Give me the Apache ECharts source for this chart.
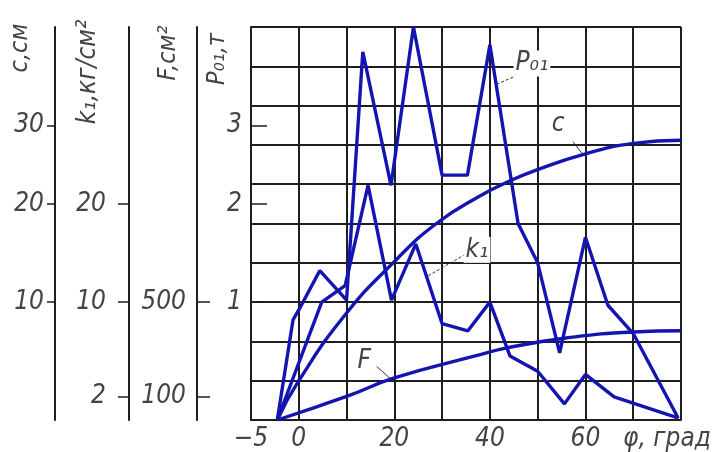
<!DOCTYPE html>
<html><head><meta charset="utf-8">
<script src="https://cdn.jsdelivr.net/npm/echarts@6.0.0/dist/echarts.min.js"></script>
<style>html,body{margin:0;padding:0;background:#fff}#chart{width:717px;height:452px}</style>
</head><body><div id="chart"></div>
<script>
// ---- data (x: φ, град ; y: values read against the 10-row grid) ----
const phiP01 = [-4.5, -1.2, 0, 4.4, 10, 13.4, 19.3, 24, 30, 35.3, 40, 45.9, 50, 54.6, 60, 64.7, 70, 79.4];
const valP01 = [0, 2.55, 2.8, 3.8, 3.05, 9.37, 5.97, 10, 6.23, 6.23, 9.55, 5.0, 4.0, 1.71, 4.65, 2.92, 2.2, 0.05];

const phiK1 = [-4.5, 4.8, 9.7, 14.5, 19.4, 24.5, 30, 35.4, 40, 44.2, 50, 55.6, 60, 66, 79.5];
const valK1 = [0, 3.0, 3.42, 5.97, 3.05, 4.48, 2.45, 2.27, 3.0, 1.63, 1.24, 0.41, 1.16, 0.59, 0.05];

const phiC = [-4.5, 0, 9.8, 20, 28.8, 37.9, 44.5, 49.7, 60, 70, 80];
const valC = [0, 1.0, 2.69, 4.03, 5.0, 5.7, 6.1, 6.36, 6.77, 7.04, 7.12];

const phiF = [-4.5, 10, 20, 36.9, 43.8, 55.6, 70, 80];
const valF = [0, 0.6, 1.07, 1.63, 1.84, 2.08, 2.24, 2.27];

// tick labels
const xTickAt = [-10, 0, 20, 40, 60];
const xTickLabels = ['−5', '0', '20', '40', '60'];
const p01TickAt = [3, 5.5, 7.5];
const p01TickLabels = ['1', '2', '3'];
const cTickAt = [3, 5.5, 7.5];
const cTickLabels = ['10', '20', '30'];
const k1TickAt = [0.6, 3, 5.5];
const k1TickLabels = ['2', '10', '20'];
const fTickAt = [0.6, 3];
const fTickLabels = ['100', '500'];

// ---- styles ----
const FONT = "'Liberation Sans Narrow', 'DejaVu Sans Condensed', 'Liberation Sans', sans-serif";
const TXT = '#444444';
const BLUE = '#1414b0';
const GRIDC = '#1e1e1e';

const pairs = (xs, ys) => xs.map((x, i) => [x, ys[i]]);
const lookup = (at, labels) => v => {
  for (let i = 0; i < at.length; i++) if (Math.abs(at[i] - v) < 1e-6) return labels[i];
  return '';
};

function labelAxis(offset, at, labels, inside, tickLen, margin, showLine) {
  return {
    type: 'value', position: 'left', offset: offset, min: 0, max: 10,
    axisLine: { show: showLine, onZero: false, lineStyle: { color: GRIDC, width: 2 } },
    axisTick: { show: true, inside: inside, length: tickLen, customValues: at, lineStyle: { color: GRIDC, width: 1.5 } },
    axisLabel: { show: true, customValues: at, formatter: lookup(at, labels), margin: margin,
      fontFamily: FONT, fontStyle: 'italic', fontSize: 26, color: TXT },
    splitLine: { show: false }
  };
}

const lblStyle = (bg) => ({
  show: true, position: 'inside', fontFamily: FONT, fontStyle: 'italic', fontSize: 26, color: TXT,
  backgroundColor: bg ? '#fff' : 'transparent', padding: [0, 2]
});

const chart = echarts.init(document.getElementById('chart'), null, { renderer: 'canvas' });
chart.setOption({
  animation: false,
  backgroundColor: '#fff',
  grid: { left: 251, right: 36, top: 27, bottom: 28, containLabel: false },
  xAxis: {
    type: 'value', min: -10, max: 80, interval: 10,
    axisLine: { show: true, onZero: false, lineStyle: { color: GRIDC, width: 2 } },
    axisTick: { show: false },
    axisLabel: {
      show: true, interval: 0, margin: 6,
      formatter: v => { const i = xTickAt.indexOf(v); return i >= 0 ? xTickLabels[i] : ''; },
      fontFamily: FONT, fontStyle: 'italic', fontSize: 26, color: TXT
    },
    splitLine: { show: true, lineStyle: { color: GRIDC, width: 2 } },
    name: 'φ, град', nameLocation: 'end', nameGap: -58,
    nameTextStyle: { fontFamily: FONT, fontStyle: 'italic', fontSize: 26, color: TXT, verticalAlign: 'top', padding: [6, 0, 0, 0] }
  },
  yAxis: [
    { type: 'value', min: 0, max: 10, interval: 1, position: 'left',
      axisLine: { show: true, onZero: false, lineStyle: { color: GRIDC, width: 2 } },
      axisTick: { show: false }, axisLabel: { show: false },
      splitLine: { show: true, lineStyle: { color: GRIDC, width: 2 } } },
    labelAxis(0, p01TickAt, p01TickLabels, true, 16, 9, false),
    labelAxis(54, fTickAt, fTickLabels, true, 13, 11, true),
    labelAxis(122, k1TickAt, k1TickLabels, false, 11, 23, true),
    labelAxis(196, cTickAt, cTickLabels, false, 8, 11, true)
  ],
  graphic: [
    { type: 'text', x: 20, y: 48, rotation: Math.PI / 2,
      style: { text: 'c,см', font: 'italic 25px ' + FONT, fill: TXT, align: 'center', verticalAlign: 'middle' } },
    { type: 'text', x: 88, y: 72, rotation: Math.PI / 2,
      style: { text: 'k₁,кг/см²', font: 'italic 26px ' + FONT, fill: TXT, align: 'center', verticalAlign: 'middle' } },
    { type: 'text', x: 168, y: 53, rotation: Math.PI / 2,
      style: { text: 'F,см²', font: 'italic 25px ' + FONT, fill: TXT, align: 'center', verticalAlign: 'middle' } },
    { type: 'text', x: 217, y: 59, rotation: Math.PI / 2,
      style: { text: 'P₀₁,т', font: 'italic 25px ' + FONT, fill: TXT, align: 'center', verticalAlign: 'middle' } }
  ],
  series: [
    { name: 'P01', type: 'line', yAxisIndex: 1, data: pairs(phiP01, valP01), symbol: 'none', z: 5,
      lineStyle: { color: BLUE, width: 3.4 },
      markLine: { silent: true, symbol: 'none', label: { show: false },
        lineStyle: { color: '#333', width: 1, type: [3, 2] },
        data: [[{ coord: [41.4, 8.54] }, { coord: [45.3, 8.75] }]] },
      markPoint: { silent: true, symbol: 'circle', symbolSize: 1, itemStyle: { color: 'rgba(0,0,0,0)' },
        label: lblStyle(true), data: [{ coord: [48.8, 9.07], name: 'P₀₁', label: { formatter: 'P₀₁' } }] } },
    { name: 'k1', type: 'line', yAxisIndex: 3, data: pairs(phiK1, valK1), symbol: 'none', z: 5,
      lineStyle: { color: BLUE, width: 3.4 },
      markLine: { silent: true, symbol: 'none', label: { show: false },
        lineStyle: { color: '#333', width: 1, type: [3, 2] },
        data: [[{ coord: [27.1, 3.67] }, { coord: [34.8, 4.21] }]] },
      markPoint: { silent: true, symbol: 'circle', symbolSize: 1, itemStyle: { color: 'rgba(0,0,0,0)' },
        label: lblStyle(true), data: [{ coord: [37.3, 4.33], name: 'k₁', label: { formatter: 'k₁' } }] } },
    { name: 'c', type: 'line', yAxisIndex: 4, data: pairs(phiC, valC), symbol: 'none', z: 5,
      smooth: 0.5,
      lineStyle: { color: BLUE, width: 3.4 },
      markLine: { silent: true, symbol: 'none', label: { show: false },
        lineStyle: { color: '#333', width: 1, type: 'solid' },
        data: [[{ coord: [59.3, 6.78] }, { coord: [57.4, 7.08] }]] },
      markPoint: { silent: true, symbol: 'circle', symbolSize: 1, itemStyle: { color: 'rgba(0,0,0,0)' },
        label: lblStyle(false), data: [{ coord: [54.3, 7.53], name: 'c', label: { formatter: 'c' } }] } },
    { name: 'F', type: 'line', yAxisIndex: 2, data: pairs(phiF, valF), symbol: 'none', z: 5,
      smooth: 0.5,
      lineStyle: { color: BLUE, width: 3.4 },
      markLine: { silent: true, symbol: 'none', label: { show: false },
        lineStyle: { color: '#333', width: 1, type: 'solid' },
        data: [[{ coord: [19.4, 1.03] }, { coord: [16.3, 1.36] }]] },
      markPoint: { silent: true, symbol: 'circle', symbolSize: 1, itemStyle: { color: 'rgba(0,0,0,0)' },
        label: lblStyle(false), data: [{ coord: [13.7, 1.49], name: 'F', label: { formatter: 'F' } }] } }
  ]
});
</script>
</body></html>
